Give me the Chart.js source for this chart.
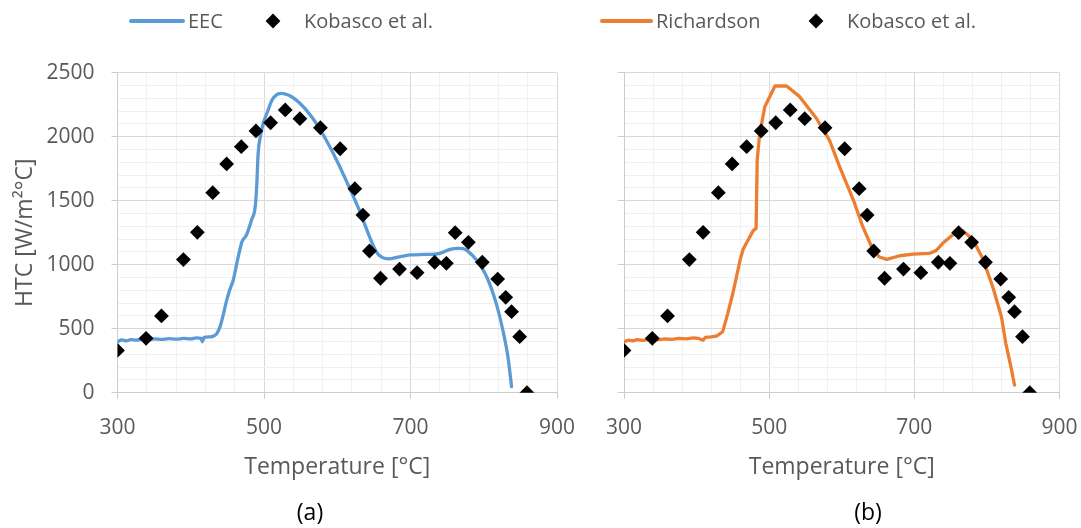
<!DOCTYPE html>
<html>
<head>
<meta charset="utf-8">
<script src="https://cdn.jsdelivr.net/npm/chart.js@4/dist/chart.umd.min.js"></script>
<style>
  html, body { margin: 0; padding: 0; background: #ffffff; }
  #wrap { position: relative; width: 1081px; height: 528px; overflow: hidden; }
  #cA { position: absolute; left: 0; top: 0; }
  #cB { position: absolute; left: 590px; top: 0; }
</style>
</head>
<body>
<div id="wrap">
  <canvas id="cA" width="590" height="528"></canvas>
  <canvas id="cB" width="491" height="528"></canvas>
</div>
<script>
// Measured heat transfer coefficient (Kobasco et al.)
const kobascoTemp = [300, 339, 360, 390, 409, 430, 449, 469, 489, 509, 529, 549, 577, 604, 624,
                     635, 644, 659, 685, 709, 733, 749, 761, 779, 798, 819, 830, 838, 849, 859];
const kobascoHtc  = [330, 425, 600, 1040, 1253, 1563, 1787, 1922, 2045, 2109, 2209, 2141, 2070, 1906, 1594,
                     1388, 1107, 894, 966, 938, 1019, 1011, 1250, 1175, 1019, 888, 745, 633, 438, 0];

// EEC model curve
const eecTemp = [300, 306, 312, 318, 326, 334, 342, 350, 360, 370, 380, 390, 400, 408, 414, 416, 418, 426,
                 432, 436, 440, 444, 448, 453, 458, 464, 470, 476, 483, 488, 490, 492, 495, 499, 504, 511,
                 518, 524, 531, 536, 549, 565, 581, 599, 617, 631, 644, 654, 662, 670, 685, 700, 720, 740,
                 754, 765, 772, 779, 790, 804, 817, 826, 833, 838];
const eecHtc  = [398, 412, 405, 415, 410, 418, 412, 420, 416, 422, 418, 424, 420, 428, 425, 398, 430, 436,
                 445, 466, 516, 600, 698, 800, 880, 1040, 1180, 1232, 1349, 1453, 1609, 1870, 2000, 2105, 2183, 2287,
                 2330, 2339, 2330, 2318, 2261, 2156, 2013, 1818, 1597, 1414, 1219, 1095, 1055, 1045, 1062, 1076, 1080, 1089,
                 1120, 1128, 1125, 1102, 1037, 906, 698, 490, 281, 47];

// Richardson model curve
const richTemp = [300, 306, 312, 318, 326, 336, 346, 356, 366, 376, 386, 396, 402, 409, 412, 420, 428, 436,
                  443, 450, 455, 460, 464, 471, 478, 482, 483.5, 487, 494, 508, 524, 542, 565, 583, 597,
                  616, 629, 643, 652, 662, 680, 698, 721, 730, 739, 758, 767, 781, 794, 808, 820, 826, 833, 838];
const richHtc  = [398, 410, 404, 414, 409, 417, 412, 420, 416, 424, 420, 428, 425, 410, 432, 436, 443, 477,
                  620, 777, 906, 1037, 1120, 1193, 1266, 1284, 1818, 2026, 2234, 2396, 2396, 2313, 2144, 1974, 1766,
                  1505, 1297, 1115, 1060, 1042, 1070, 1083, 1089, 1110, 1167, 1258, 1266, 1193, 1050, 828, 594, 386, 203, 60];

// Axis tick labels
const xLabels = [300, 500, 700, 900];
const yLabels = [0, 500, 1000, 1500, 2000, 2500];

const FONT = '"Open Sans", "DejaVu Sans", sans-serif';
const TEXT = '#595959';
const MAJOR = '#d9d9d9';
const MINOR = '#f0f0f0';
const AXIS = '#cccccc';

const pts = (xs, ys) => xs.map((x, i) => ({ x: x, y: ys[i] }));

// Legend row and panel caption drawn on the canvas
const panelDecor = {
  id: 'panelDecor',
  afterDraw(chart, args, opts) {
    const ctx = chart.ctx;
    const y = opts.legendY;
    ctx.save();
    opts.items.forEach(it => {
      const ds = chart.data.datasets[it.dataset];
      if (it.mark === 'line') {
        ctx.strokeStyle = ds.borderColor;
        ctx.lineWidth = 4;
        ctx.lineCap = 'round';
        ctx.beginPath();
        ctx.moveTo(it.x0, y);
        ctx.lineTo(it.x1, y);
        ctx.stroke();
      } else {
        const r = ds.pointRadius;
        ctx.fillStyle = ds.pointBackgroundColor;
        ctx.beginPath();
        ctx.moveTo(it.cx - r, y);
        ctx.lineTo(it.cx, y - r);
        ctx.lineTo(it.cx + r, y);
        ctx.lineTo(it.cx, y + r);
        ctx.closePath();
        ctx.fill();
      }
      ctx.font = '20px ' + FONT;
      ctx.fillStyle = TEXT;
      ctx.textAlign = 'left';
      ctx.textBaseline = 'middle';
      ctx.fillText(ds.label, it.textX, y + 1);
    });
    ctx.font = '23px ' + FONT;
    ctx.fillStyle = '#000000';
    ctx.textAlign = 'center';
    ctx.textBaseline = 'middle';
    ctx.fillText(opts.caption, opts.captionX, opts.captionY);
    ctx.restore();
  }
};

function makeScales(showYLabels, yWidth) {
  return {
    x: {
      type: 'linear',
      min: 300,
      max: 900,
      // fixed band height; end labels may hang past the plot edges
      afterFit: s => { s.height = 89; s.paddingLeft = 0; s.paddingRight = 0; },
      ticks: {
        stepSize: 40,
        autoSkip: false,
        maxRotation: 0,
        padding: 17,
        color: TEXT,
        font: { family: FONT, size: 21 },
        callback: v => xLabels.includes(Math.round(v)) ? String(Math.round(v)) : ''
      },
      grid: {
        color: c => xLabels.includes(Math.round(c.tick.value)) ? MAJOR : MINOR,
        tickColor: c => xLabels.includes(Math.round(c.tick.value)) ? AXIS : 'rgba(0,0,0,0)',
        tickLength: 6,
        lineWidth: 1
      },
      border: { color: AXIS, width: 1 },
      title: {
        display: true,
        text: 'Temperature [°C]',
        color: TEXT,
        font: { family: FONT, size: 23 },
        padding: { top: 0, bottom: 0 }
      }
    },
    y: {
      type: 'linear',
      min: 0,
      max: 2500,
      afterFit: s => { s.width = yWidth; s.paddingTop = 0; s.paddingBottom = 0; },
      ticks: {
        display: showYLabels,
        stepSize: 100,
        autoSkip: false,
        padding: 17,
        color: TEXT,
        font: { family: FONT, size: 21 },
        callback: v => yLabels.includes(Math.round(v)) ? String(Math.round(v)) : ''
      },
      grid: {
        color: c => yLabels.includes(Math.round(c.tick.value)) ? MAJOR : MINOR,
        tickColor: c => yLabels.includes(Math.round(c.tick.value)) ? AXIS : 'rgba(0,0,0,0)',
        tickLength: 6,
        lineWidth: 1
      },
      border: { color: AXIS, width: 1 },
      title: {
        display: showYLabels,
        text: 'HTC [W/m²°C]',
        color: TEXT,
        font: { family: FONT, size: 23 },
        padding: { top: 12, bottom: 0 }
      }
    }
  };
}

function makeChart(canvasId, model, color, scaleOpts, padding, decor) {
  return new Chart(document.getElementById(canvasId), {
    type: 'line',
    data: {
      datasets: [
        {
          type: 'scatter',
          label: 'Kobasco et al.',
          data: pts(kobascoTemp, kobascoHtc),
          pointStyle: 'rectRot',
          pointRadius: 7.4,
          pointBackgroundColor: '#000000',
          pointBorderColor: '#000000',
          pointBorderWidth: 0,
          showLine: false,
          order: 0
        },
        {
          type: 'line',
          label: model.label,
          data: pts(model.xs, model.ys),
          borderColor: color,
          backgroundColor: color,
          borderWidth: 3.3,
          pointRadius: 0,
          fill: false,
          cubicInterpolationMode: model.smooth ? 'monotone' : 'default',
          tension: 0,
          borderJoinStyle: 'round',
          borderCapStyle: 'round',
          order: 1
        }
      ]
    },
    options: {
      responsive: false,
      animation: false,
      events: [],
      layout: { padding: padding },
      scales: scaleOpts,
      plugins: {
        legend: { display: false },
        tooltip: { enabled: false },
        title: { display: false },
        panelDecor: decor
      }
    },
    plugins: [panelDecor]
  });
}

// (a) EEC
makeChart('cA',
  { label: 'EEC', xs: eecTemp, ys: eecHtc, smooth: true },
  '#5b9bd5',
  makeScales(true, 117.5),
  { top: 72.7, right: 33, bottom: 46.3, left: 0 },
  {
    legendY: 21,
    items: [
      { dataset: 1, mark: 'line', x0: 131, x1: 183, textX: 188 },
      { dataset: 0, mark: 'diamond', cx: 273, textX: 304 }
    ],
    caption: '(a)', captionX: 310, captionY: 513
  });

// (b) Richardson
makeChart('cB',
  { label: 'Richardson', xs: richTemp, ys: richHtc, smooth: false },
  '#ed7d31',
  makeScales(false, 34),
  { top: 72.7, right: 21.5, bottom: 46.3, left: 0 },
  {
    legendY: 21,
    items: [
      { dataset: 1, mark: 'line', x0: 12, x1: 61, textX: 66 },
      { dataset: 0, mark: 'diamond', cx: 226, textX: 257 }
    ],
    caption: '(b)', captionX: 278, captionY: 513
  });
</script>
</body>
</html>
